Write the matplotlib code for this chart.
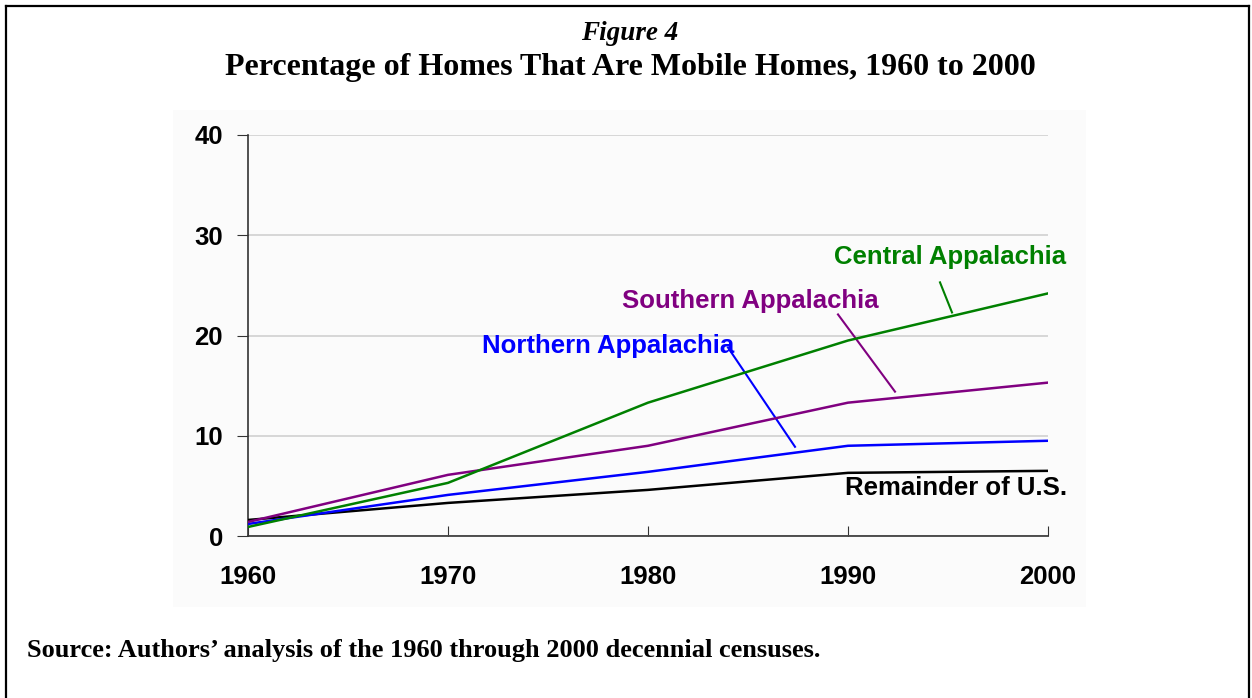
import matplotlib.pyplot as plt
import matplotlib.patches as patches
from matplotlib.lines import Line2D

years = [1960, 1970, 1980, 1990, 2000]
central = [0.9, 5.3, 13.3, 19.5, 24.2]
southern = [1.4, 6.1, 9.0, 13.3, 15.3]
northern = [1.2, 4.1, 6.4, 9.0, 9.5]
remainder = [1.6, 3.3, 4.6, 6.3, 6.5]

W, H = 1252, 698
fig = plt.figure(figsize=(W / 100, H / 100), dpi=100)

# faint chart area background
fig.patches.append(patches.Rectangle((173 / W, 1 - 607 / H), (1086 - 173) / W, (607 - 110) / H,
                                     transform=fig.transFigure, facecolor='#fbfbfb',
                                     edgecolor='none', zorder=-5))
# page frame
for xs, ys in [([6, 6], [698, 6]), ([6, 1249], [6, 6]), ([1249, 1249], [6, 698])]:
    fig.lines.append(Line2D([x / W for x in xs], [1 - y / H for y in ys],
                            transform=fig.transFigure, color='black', lw=1.6))

ax = fig.add_axes([248 / W, 1 - 536 / H, 800 / W, 401 / H])
ax.set_facecolor('none')
ax.set_zorder(2)

ax.plot(years, remainder, color='black', lw=1.8, zorder=3)
ax.plot(years, northern, color='#0000ff', lw=1.8, zorder=3)
ax.plot(years, southern, color='#800080', lw=1.8, zorder=3)
ax.plot(years, central, color='#008000', lw=1.8, zorder=3)

ax.set_xlim(1960, 2000)
ax.set_ylim(0, 40)
ax.set_xticks(years)
ax.set_yticks([0, 10, 20, 30, 40])
ax.yaxis.grid(True, color='#d0d0d0', lw=1.2)
ax.set_axisbelow(True)
for s in ['top', 'right']:
    ax.spines[s].set_visible(False)
for s in ['left', 'bottom']:
    ax.spines[s].set_color('#333333')
    ax.spines[s].set_linewidth(1.2)
ax.tick_params(axis='x', direction='in', length=7, color='#333333', pad=21)
ax.tick_params(axis='y', direction='out', length=8, color='#333333', pad=10)
for lab in ax.get_xticklabels() + ax.get_yticklabels():
    lab.set_fontfamily('Liberation Sans')
    lab.set_fontweight('bold')
    lab.set_fontsize(18.5)

lbl = dict(family='Liberation Sans', weight='bold', fontsize=18.5, ha='center', va='center')
ax.text(1995.1, 27.8, 'Central Appalachia', color='#008000', **lbl)
ax.plot([1994.6, 1995.2], [25.3, 22.3], color='#008000', lw=1.5)
ax.text(1985.1, 23.4, 'Southern Appalachia', color='#800080', **lbl)
ax.plot([1989.5, 1992.35], [22.1, 14.4], color='#800080', lw=1.5)
ax.text(1978.0, 19.0, 'Northern Appalachia', color='#0000ff', **lbl)
ax.plot([1984.0, 1987.35], [18.8, 8.9], color='#0000ff', lw=1.5)
ax.text(1995.4, 4.8, 'Remainder of U.S.', color='black', **lbl)

fig.text(630 / W, 1 - 34 / H, 'Figure 4', family='Liberation Serif', style='italic',
         weight='bold', fontsize=19.5, ha='center', va='center')
fig.text(630 / W, 1 - 68 / H, 'Percentage of Homes That Are Mobile Homes, 1960 to 2000',
         family='Liberation Serif', weight='bold', fontsize=23, ha='center', va='center')
fig.text(27 / W, 1 - 651 / H, 'Source: Authors\u2019 analysis of the 1960 through 2000 decennial censuses.',
         family='Liberation Serif', weight='bold', fontsize=19, ha='left', va='center')

fig.savefig('out.png', dpi=100)
